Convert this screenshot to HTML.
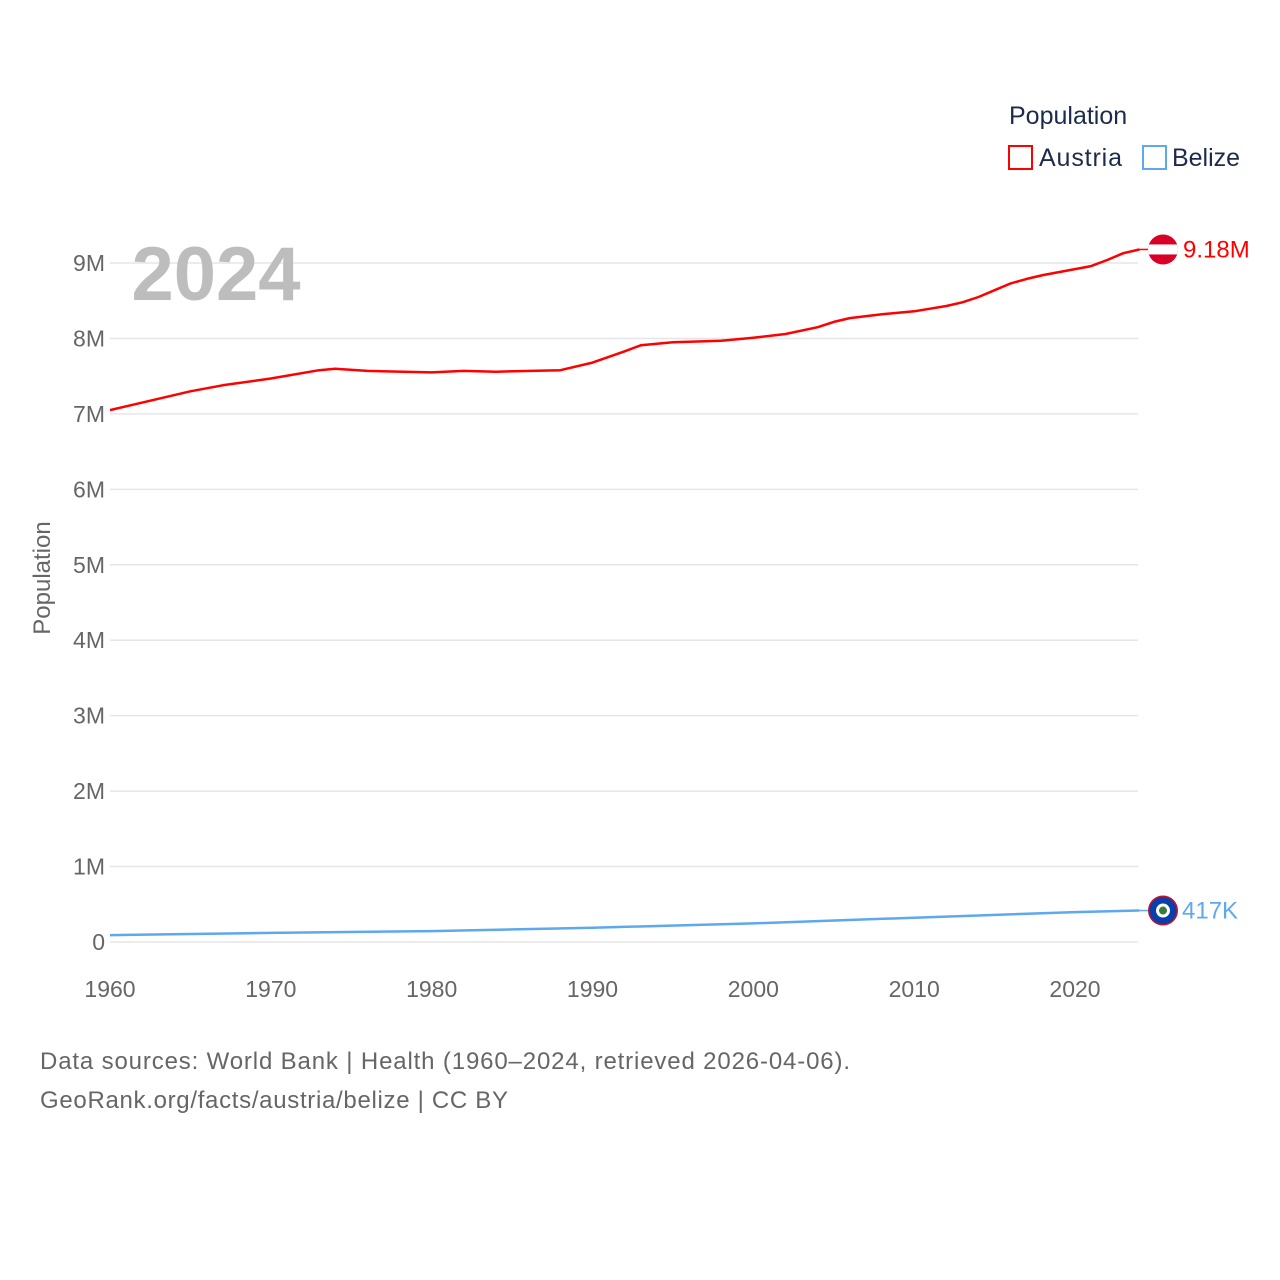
<!DOCTYPE html>
<html><head><meta charset="utf-8"><style>
body{margin:0;background:#fff;}
svg{display:block;font-family:"Liberation Sans",sans-serif;}
</style></head><body>
<svg id="chart" width="1280" height="1280" viewBox="0 0 1280 1280">
<rect width="1280" height="1280" fill="#fff"/>
<g id="grid"></g>
<g id="yticks"></g>
<g id="xticks"></g>
<text x="216" y="300" font-size="76" font-weight="bold" fill="#bdbdbd" text-anchor="middle">2024</text>
<text transform="translate(50,578) rotate(-90)" font-size="24" fill="#666" text-anchor="middle">Population</text>
<g id="series"></g>
<text x="1009" y="124" font-size="25" fill="#1d2b4a">Population</text>
<g>
<rect x="1009" y="146" width="23" height="23" fill="none" stroke="#ff0000" stroke-width="2"/>
<text x="1039" y="166" font-size="25" fill="#1d2b4a" textLength="83">Austria</text></g>
<g>
<rect x="1143" y="146" width="23" height="23" fill="none" stroke="#5ea8ee" stroke-width="2"/>
<text x="1172" y="166" font-size="25" fill="#1d2b4a" textLength="68">Belize</text></g>
<text x="40" y="1069" font-size="24" fill="#666" textLength="810">Data sources: World Bank | Health (1960–2024, retrieved 2026-04-06).</text>
<text x="40" y="1108" font-size="24" fill="#666" textLength="468">GeoRank.org/facts/austria/belize | CC BY</text>
</svg>
<script>
const austriaYears=[1960,1965,1967,1970,1973,1974,1976,1980,1982,1984,1988,1990,1992,1993,1995,1998,2000,2002,2004,2005,2006,2008,2010,2012,2013,2014,2015,2016,2017,2018,2020,2021,2022,2023,2024];
const austriaValues=[7.05,7.30,7.38,7.47,7.58,7.60,7.57,7.55,7.57,7.56,7.58,7.68,7.83,7.91,7.95,7.97,8.01,8.06,8.15,8.22,8.27,8.32,8.36,8.43,8.48,8.55,8.64,8.73,8.79,8.84,8.92,8.96,9.04,9.13,9.18];
const belizeYears=[1960,1970,1980,1990,2000,2010,2020,2024];
const belizeValues=[0.092,0.12,0.145,0.19,0.247,0.322,0.397,0.417];
const yTicks=[0,1,2,3,4,5,6,7,8,9];
const yTickLabels=["0","1M","2M","3M","4M","5M","6M","7M","8M","9M"];
const xTicks=[1960,1970,1980,1990,2000,2010,2020];
const NS="http://www.w3.org/2000/svg";
const xs=y=>110+(y-1960)*(965/60);
const ys=v=>942-v*75.44;
function mk(tag,attrs,parent){const e=document.createElementNS(NS,tag);for(const k in attrs)e.setAttribute(k,attrs[k]);parent.appendChild(e);return e;}
const grid=document.getElementById('grid'),yt=document.getElementById('yticks'),xt=document.getElementById('xticks'),ser=document.getElementById('series');
yTicks.forEach((t,i)=>{
 const l=mk('line',{x1:110,x2:1138,y1:ys(t),y2:ys(t),stroke:'#e6e6e6','stroke-width':1.5},grid);
 
 
 const tx=mk('text',{x:105,y:ys(t)+8,'font-size':23,fill:'#666','text-anchor':'end'},yt);
 tx.textContent=yTickLabels[i];
 
 
});
xTicks.forEach(t=>{
 const tx=mk('text',{x:xs(t),y:997,'font-size':23,fill:'#666','text-anchor':'middle'},xt);
 tx.textContent=t;
 
 
});
function line(years,vals,color,name){
 const d=years.map((y,i)=>(i?'L':'M')+xs(y).toFixed(1)+','+ys(vals[i]).toFixed(1)).join(' ');
 const p=mk('path',{d:d,fill:'none',stroke:color,'stroke-width':2.5,'stroke-linejoin':'round'},ser);
 
 
}
line(austriaYears,austriaValues,'#ff0000','austria-line');
line(belizeYears,belizeValues,'#5ea8ee','belize-line');
const ay=ys(austriaValues[austriaValues.length-1]), by=ys(belizeValues[belizeValues.length-1]);
mk('line',{x1:1139,y1:ay,x2:1150,y2:ay,stroke:'#ff0000','stroke-width':1.5},ser);
const af=mk('g',{},ser);


const cp=mk('clipPath',{id:'ac'},af);
mk('circle',{cx:1163,cy:ay,r:15},cp);
mk('rect',{x:1148,y:ay-15,width:30,height:30,fill:'#d80027','clip-path':'url(#ac)'},af);
mk('rect',{x:1148,y:ay-5,width:30,height:10,fill:'#fff','clip-path':'url(#ac)'},af);
const al=mk('text',{x:1183,y:ay+8,'font-size':24,fill:'#ff0000'},ser);
al.textContent='9.18M';


mk('line',{x1:1139,y1:by,x2:1150,y2:by,stroke:'#5ea8ee','stroke-width':1.5},ser);
const bf=mk('g',{},ser);


mk('circle',{cx:1163,cy:by,r:15,fill:'#c8102e'},bf);
mk('circle',{cx:1163,cy:by,r:13.5,fill:'#0a3ea8'},bf);
mk('circle',{cx:1163,cy:by,r:7,fill:'#fff'},bf);
mk('circle',{cx:1163,cy:by,r:4,fill:'#3a7a3a'},bf);
const bl=mk('text',{x:1182,y:by+8,'font-size':24,fill:'#5ea8ee'},ser);
bl.textContent='417K';


</script>
</body></html>
